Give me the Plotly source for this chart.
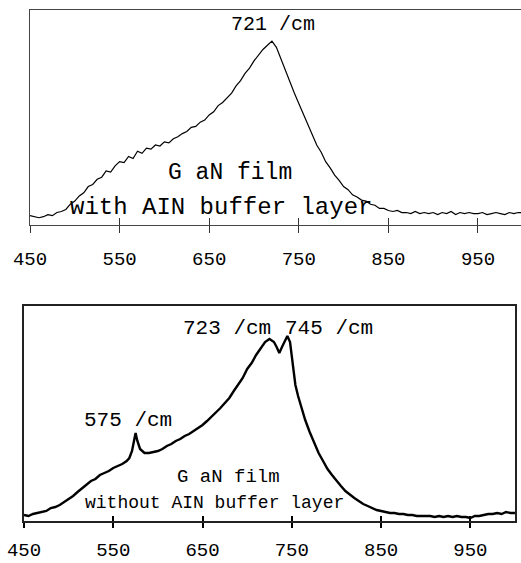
import plotly.graph_objects as go

# ---------------- data ----------------
TICK_VALS = [450, 550, 650, 750, 850, 950]
TICK_TEXT = ["450", "550", "650", "750", "850", "950"]

TOP_WN = [450, 455, 460, 465, 470, 475, 480, 485, 490, 495,
          500, 505, 510, 515, 520, 525, 530, 535, 540, 545,
          550, 555, 560, 565, 570, 575, 580, 585, 590, 595,
          600, 605, 610, 615, 620, 625, 630, 635, 640, 645,
          650, 655, 660, 665, 670, 675, 680, 685, 690, 695,
          700, 705, 710, 715, 720, 725, 730, 735, 740, 745,
          750, 755, 760, 765, 770, 775, 780, 785, 790, 795,
          800, 805, 810, 815, 820, 825, 830, 835, 840, 845,
          850, 855, 860, 865, 870, 875, 880, 885, 890, 895,
          900, 905, 910, 915, 920, 925, 930, 935, 940, 945,
          950, 955, 960, 965, 970, 975, 980, 985, 990, 995, 1000]
TOP_I = [9, 8, 7, 8, 10, 9, 12, 13, 15, 20,
         23, 28, 31, 37, 39, 44, 46, 52, 51, 57,
         61, 60, 66, 64, 71, 69, 74, 73, 77, 76,
         80, 79, 83, 85, 88, 90, 94, 95, 99, 101,
         106, 109, 115, 118, 123, 127, 134, 139, 146, 151,
         158, 164, 169, 173, 177, 171, 160, 148, 138, 127,
         117, 107, 96, 87, 77, 70, 61, 55, 48, 43,
         37, 34, 29, 27, 24, 23, 20, 19, 16, 16,
         14, 13, 14, 12, 12, 11, 13, 11, 12, 11,
         12, 10, 12, 11, 13, 10, 12, 11, 12, 11,
         11, 12, 10, 11, 12, 11, 10, 12, 11, 12, 12]

BOT_WN = [450, 455, 460, 465, 470, 475, 480, 485, 490, 495,
          500, 505, 510, 515, 520, 525, 530, 535, 540, 545,
          550, 555, 560, 565, 568, 571, 573, 575, 577, 580,
          585, 590, 595, 600, 605, 610, 615, 620, 625, 630,
          635, 640, 645, 650, 655, 660, 665, 670, 675, 680,
          685, 690, 695, 700, 705, 710, 715, 720, 725, 730,
          733, 736, 739, 742, 745, 748, 751, 754, 757, 760,
          765, 770, 775, 780, 785, 790, 795, 800, 805, 810,
          815, 820, 825, 830, 835, 840, 845, 850, 855, 860,
          865, 870, 875, 880, 885, 890, 895, 900, 905, 910,
          915, 920, 925, 930, 935, 940, 945, 950, 955, 960,
          965, 970, 975, 980, 985, 990, 995, 1000]
BOT_I = [6, 5, 7, 8, 9, 10, 13, 14, 16, 19,
         22, 25, 29, 33, 36, 40, 42, 46, 48, 50,
         53, 55, 57, 60, 63, 70, 80, 88, 80, 72,
         68, 68, 69, 70, 72, 75, 77, 80, 82, 85,
         87, 90, 93, 96, 100, 104, 108, 113, 118, 123,
         130, 137, 143, 152, 158, 166, 173, 179, 182, 179,
         174, 168, 174, 180, 185, 179, 155, 136, 125, 116,
         101, 89, 78, 68, 60, 52, 46, 40, 35, 30,
         26, 23, 20, 17, 15, 13, 11, 10, 9, 8,
         8, 7, 7, 6, 6, 5, 5, 5, 5, 4,
         5, 4, 5, 4, 5, 4, 4, 3, 5, 5,
         6, 7, 7, 8, 7, 9, 8, 8]

TOP_LABELS = [("721 /cm", 721, 193, 20),
              ("G aN film", 673, 50, 23),
              ("with AIN buffer layer", 663, 17, 24)]
BOT_LABELS = [("723 /cm", 677, 193, 21),
              ("745 /cm", 792, 193, 21),
              ("575 /cm", 567, 101, 21),
              ("G aN film", 679, 44, 19),
              ("without AIN buffer layer", 663, 18, 18)]

W, H = 521, 563
FONT = "Liberation Mono, Courier New, monospace"

def px_x(a, b):
    return [a / W, b / W]

def px_y(top, bottom):
    return [(H - bottom) / H, (H - top) / H]

fig = go.Figure()

fig.add_trace(go.Scatter(x=TOP_WN, y=TOP_I, mode="lines",
                         line=dict(color="black", width=1.2),
                         xaxis="x", yaxis="y", hoverinfo="skip"))
fig.add_trace(go.Scatter(x=BOT_WN, y=BOT_I, mode="lines",
                         line=dict(color="black", width=2.4),
                         xaxis="x2", yaxis="y2", hoverinfo="skip"))
# dummy traces so the overlay tick axes are drawn
fig.add_trace(go.Scatter(x=[450], y=[0], mode="none", xaxis="x3", yaxis="y",
                         hoverinfo="skip"))
fig.add_trace(go.Scatter(x=[450], y=[0], mode="none", xaxis="x4", yaxis="y2",
                         hoverinfo="skip"))

common_font = dict(family=FONT, color="black")

fig.update_layout(
    template="none",
    width=W, height=H,
    margin=dict(l=0, r=0, t=0, b=0, pad=0),
    paper_bgcolor="white", plot_bgcolor="white",
    showlegend=False,
    xaxis=dict(domain=px_x(30, 521), range=[450, 998], anchor="y",
               automargin=False,
               tickmode="array", tickvals=TICK_VALS, ticktext=TICK_TEXT,
               ticks="outside", ticklen=7, tickwidth=1, tickcolor="#333",
               showline=True, linecolor="#444", linewidth=1, mirror=True,
               showgrid=False, zeroline=False,
               tickfont=dict(size=19, **common_font), ticklabelstandoff=9),
    yaxis=dict(domain=px_y(10, 225), range=[0, 207], anchor="x",
               automargin=False,
               showline=True, linecolor="#444", linewidth=1,
               showticklabels=False, ticks="", showgrid=False, zeroline=False),
    xaxis3=dict(overlaying="x", matches="x", anchor="y", automargin=False,
                tickmode="array", tickvals=TICK_VALS,
                ticks="inside", ticklen=7, tickwidth=1, tickcolor="#333",
                showticklabels=False, showline=False, showgrid=False,
                zeroline=False),
    xaxis2=dict(domain=px_x(24, 515), range=[450, 1000], anchor="y2",
                automargin=False,
                tickmode="array", tickvals=TICK_VALS, ticktext=TICK_TEXT,
                ticks="outside", ticklen=5, tickwidth=1.5, tickcolor="black",
                showline=True, linecolor="#222", linewidth=2, mirror=True,
                showgrid=False, zeroline=False,
                tickfont=dict(size=19, **common_font), ticklabelstandoff=5),
    yaxis2=dict(domain=px_y(306, 521), range=[0, 215], anchor="x2",
                automargin=False,
                showline=True, linecolor="#222", linewidth=2, mirror=True,
                showticklabels=False, ticks="", showgrid=False, zeroline=False),
    xaxis4=dict(overlaying="x2", matches="x2", anchor="y2", automargin=False,
                tickmode="array", tickvals=TICK_VALS,
                ticks="inside", ticklen=5, tickwidth=1.5, tickcolor="black",
                showticklabels=False, showline=False, showgrid=False,
                zeroline=False),
)

for text, xv, yv, size in TOP_LABELS:
    fig.add_annotation(text=text, x=xv, y=yv, xref="x", yref="y",
                       showarrow=False, xanchor="center", yanchor="middle",
                       font=dict(size=size, **common_font))
for text, xv, yv, size in BOT_LABELS:
    fig.add_annotation(text=text, x=xv, y=yv, xref="x2", yref="y2",
                       showarrow=False, xanchor="center", yanchor="middle",
                       font=dict(size=size, **common_font))

fig.write_html("out.html")
